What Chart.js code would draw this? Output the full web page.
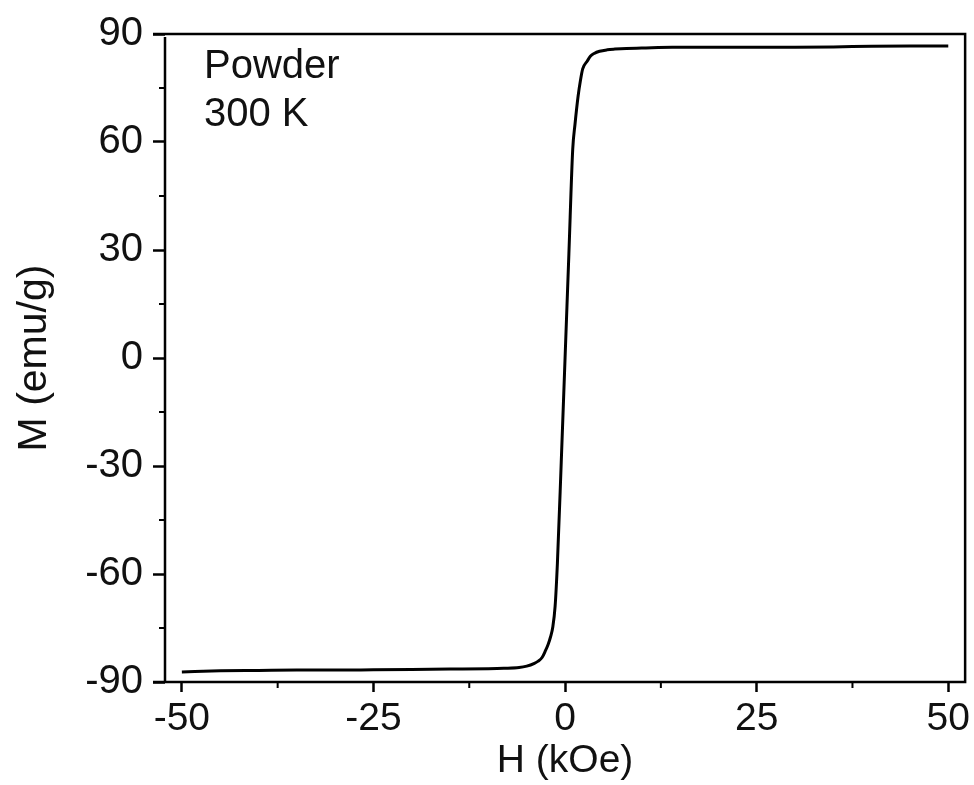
<!DOCTYPE html>
<html>
<head>
<meta charset="utf-8">
<script src="https://cdn.jsdelivr.net/npm/chart.js@4/dist/chart.umd.min.js"></script>
<style>
  html, body { margin: 0; padding: 0; background: #ffffff; }
  #wrap { position: relative; width: 974px; height: 785px; }
</style>
</head>
<body>
<div id="wrap"><canvas id="c" width="974" height="785"></canvas></div>
<script>
// Applied field H (kOe)
const fieldH = [-50, -45, -40, -35, -30, -25, -20, -15, -10, -8, -6, -5, -4, -3.5, -3, -2.6, -2.2, -1.9, -1.6, -1.3, -1.0, -0.5, 0, 0.5, 1.0, 1.3, 1.7, 2.0, 2.3, 2.9, 3.3, 3.8, 4.5, 5.5, 6.5, 8, 10, 14, 20, 25, 30, 35, 40, 45, 50];
// Magnetization M (emu/g)
const magM = [-87.2, -86.9, -86.8, -86.7, -86.7, -86.6, -86.5, -86.4, -86.3, -86.2, -86.0, -85.6, -84.8, -84.2, -83.2, -81.5, -79.5, -77.5, -74.7, -69, -57, -29, 0, 29, 58, 65, 72.7, 77, 80.3, 82.5, 83.8, 84.6, 85.2, 85.6, 85.8, 86.0, 86.1, 86.3, 86.3, 86.3, 86.3, 86.4, 86.6, 86.7, 86.7];
const xMajorTicks = [-50, -25, 0, 25, 50];
const xMinorTicks = [-37.5, -12.5, 12.5, 37.5];
const yMajorTicks = [-90, -60, -30, 0, 30, 60, 90];
const yMinorTicks = [-75, -45, -15, 15, 45, 75];
const annotationLines = ["Powder", "300 K"];

const FONT = "'Liberation Sans', Arial, sans-serif";

const framePlugin = {
  id: 'frame',
  afterDraw(chart) {
    const { ctx, chartArea: a, scales } = chart;
    ctx.save();
    ctx.strokeStyle = '#000';
    ctx.lineWidth = 2.5;
    ctx.lineCap = 'butt';
    ctx.beginPath();
    ctx.moveTo(a.left - 12, a.bottom); ctx.lineTo(a.right + 1.25, a.bottom);
    ctx.moveTo(a.left - 12, a.top); ctx.lineTo(a.right + 1.25, a.top);
    ctx.moveTo(a.right, a.top); ctx.lineTo(a.right, a.bottom);
    ctx.moveTo(a.left, a.top + 3); ctx.lineTo(a.left, a.bottom);
    ctx.stroke();
    ctx.lineWidth = 2;
    ctx.beginPath();
    xMinorTicks.forEach(v => {
      const px = scales.x.getPixelForValue(v);
      ctx.moveTo(px, a.bottom); ctx.lineTo(px, a.bottom + 6);
    });
    yMinorTicks.forEach(v => {
      const py = scales.y.getPixelForValue(v);
      ctx.moveTo(a.left, py); ctx.lineTo(a.left - 6, py);
    });
    ctx.stroke();
    ctx.fillStyle = '#111';
    ctx.font = '40px ' + FONT;
    ctx.textBaseline = 'middle';
    ctx.textAlign = 'left';
    annotationLines.forEach((t, i) => {
      ctx.fillText(t, a.left + 39, a.top + 33 + i * 48);
    });
    ctx.restore();
  }
};

new Chart(document.getElementById('c'), {
  type: 'line',
  data: {
    datasets: [{
      data: fieldH.map((h, i) => ({ x: h, y: magM[i] })),
      borderColor: '#000',
      borderWidth: 3,
      pointRadius: 0,
      cubicInterpolationMode: 'monotone',
      fill: false
    }]
  },
  options: {
    responsive: false,
    animation: false,
    devicePixelRatio: 1,
    layout: { padding: { top: 26, right: 2, left: 0, bottom: 0 } },
    plugins: { legend: { display: false }, tooltip: { enabled: false } },
    scales: {
      x: {
        type: 'linear',
        min: -52.2,
        max: 52.2,
        afterBuildTicks(scale) { scale.ticks = xMajorTicks.map(v => ({ value: v })); },
        afterFit(scale) { scale.height = 103; },
        border: { display: false },
        grid: { drawOnChartArea: false, drawTicks: true, tickLength: 10, tickWidth: 2.5, tickColor: '#000' },
        ticks: { color: '#111', font: { family: FONT, size: 39 }, padding: 4, maxRotation: 0, autoSkip: false },
        title: { display: true, text: 'H (kOe)', color: '#111', font: { family: FONT, size: 39 }, padding: { top: 0, bottom: 0 } }
      },
      y: {
        type: 'linear',
        min: -90,
        max: 90,
        afterBuildTicks(scale) { scale.ticks = yMajorTicks.map(v => ({ value: v })); },
        afterFit(scale) { scale.width = 165; },
        border: { display: false },
        grid: { drawOnChartArea: false, drawTicks: true, tickLength: 12, tickWidth: 2.5, tickColor: '#000' },
        ticks: { color: '#111', font: { family: FONT, size: 40 }, padding: 10, autoSkip: false },
        title: { display: true, text: 'M (emu/g)', color: '#111', font: { family: FONT, size: 41 }, padding: { top: 10, bottom: 0 } }
      }
    }
  },
  plugins: [framePlugin]
});
</script>
</body>
</html>
